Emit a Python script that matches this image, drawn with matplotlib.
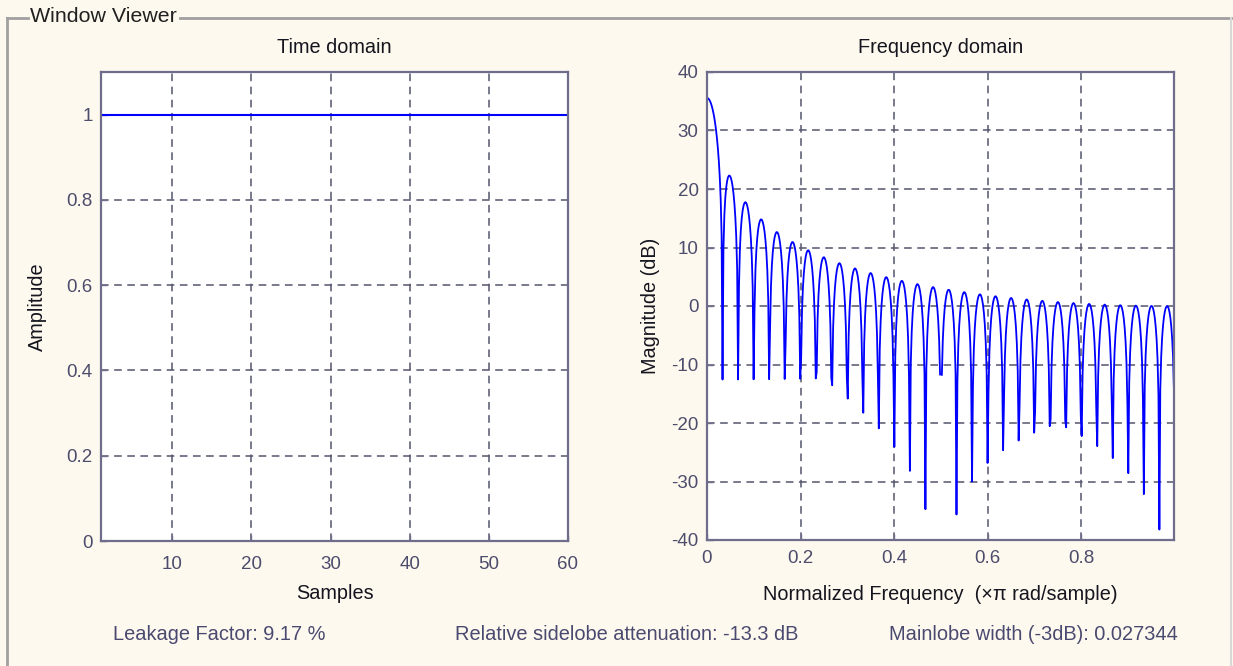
import numpy as np
import matplotlib
matplotlib.use("Agg")
import matplotlib.pyplot as plt
from matplotlib.lines import Line2D

# ---- data ----
window_len = 60
window_values = [1.0] * window_len          # rectangular window, amplitude 1
samples = list(range(1, window_len + 1))
n_freq = 512                                 # frequency points in [0, pi)

time_yticks = [0, 0.2, 0.4, 0.6, 0.8, 1]
time_xticks = [10, 20, 30, 40, 50, 60]
freq_xticks = [0, 0.2, 0.4, 0.6, 0.8]
freq_yticks = [-40, -30, -20, -10, 0, 10, 20, 30, 40]

info_leakage = "Leakage Factor: 9.17 %"
info_sidelobe = "Relative sidelobe attenuation: -13.3 dB"
info_mainlobe = "Mainlobe width (-3dB): 0.027344"

# spectrum of the window (as the viewer computes it)
H = np.fft.fft(np.asarray(window_values), 2 * n_freq)[:n_freq]
freq = np.arange(n_freq) / n_freq
absH = np.abs(H)
mag_db = np.where(absH < 1e-9, np.nan, 20 * np.log10(np.maximum(absH, 1e-300)))

# ---- style ----
BG = "#fef9ee"
SPINE = "#6e6e8c"
TICKC = "#4c4c6c"
GRIDC = "#55556e"
LABELC = "#15151f"
INFOC = "#4a4a70"
FONT = ["Liberation Sans", "DejaVu Sans"]
FS_TICK = 13.5
FS_LAB = 14.3
FS_INFO = 14.4

plt.rcParams["font.family"] = FONT
plt.rcParams["axes.unicode_minus"] = False

W, Hpx = 1233, 666
fig = plt.figure(figsize=(W / 100, Hpx / 100), dpi=100, facecolor=BG)


def fx(px):
    return px / W


def fy(py):
    return 1 - py / Hpx


def style_axes(ax, xpad):
    ax.set_facecolor("white")
    for s in ax.spines.values():
        s.set_color(SPINE)
        s.set_linewidth(1.6)
    ax.tick_params(direction="in", length=4, width=1, color=SPINE,
                   labelcolor=TICKC, labelsize=FS_TICK, pad=6)
    ax.tick_params(axis="x", pad=xpad)
    ax.grid(True, color=GRIDC, linestyle=(0, (5, 3.6)), linewidth=1.1)
    ax.set_axisbelow(True)


# Time domain axes
ax1 = fig.add_axes([fx(101), fy(541), fx(568 - 101), (541 - 72) / Hpx])
style_axes(ax1, 11)
ax1.plot(samples, window_values, color="#0000ff", linewidth=1.5)
ax1.set_xlim(1, window_len)
ax1.set_ylim(0, 1.1)
ax1.set_xticks(time_xticks)
ax1.set_yticks(time_yticks)
ax1.set_yticklabels([f"{v:g}" for v in time_yticks])
ax1.set_title("Time domain", fontsize=FS_LAB, color=LABELC, pad=14)
ax1.set_xlabel("Samples", fontsize=FS_LAB, color=LABELC, labelpad=8)
ax1.set_ylabel("Amplitude", fontsize=FS_LAB, color=LABELC, labelpad=14)

# Frequency domain axes
ax2 = fig.add_axes([fx(707), fy(540), fx(1174 - 707), (540 - 72) / Hpx])
style_axes(ax2, 7)
ax2.plot(freq, mag_db, color="#0000ff", linewidth=1.3)
ax2.set_xlim(freq[0], freq[-1])
ax2.set_ylim(-40, 40)
ax2.set_xticks(freq_xticks)
ax2.set_xticklabels([f"{v:g}" for v in freq_xticks])
ax2.set_yticks(freq_yticks)
ax2.set_title("Frequency domain", fontsize=FS_LAB, color=LABELC, pad=14)
ax2.set_xlabel("Normalized Frequency  (\u00d7\u03c0 rad/sample)", fontsize=FS_LAB,
               color=LABELC, labelpad=13)
ax2.set_ylabel("Magnitude (dB)", fontsize=FS_LAB, color=LABELC, labelpad=8)

# Group-box frame
frame_c = "#a0a0a0"
fig.add_artist(Line2D([fx(7), fx(7)], [fy(18), fy(666)], color=frame_c, lw=2))
fig.add_artist(Line2D([fx(7), fx(28)], [fy(18), fy(18)], color=frame_c, lw=2))
fig.add_artist(Line2D([fx(180), fx(1231)], [fy(18), fy(18)], color=frame_c, lw=2))
fig.add_artist(Line2D([fx(1231), fx(1231)], [fy(18), fy(666)], color="#d8d8d8", lw=1.5))
fig.text(fx(30), fy(17), "Window Viewer", fontsize=15.4, color="#202020",
         ha="left", va="center")

# Info texts
fig.text(fx(113), fy(635), info_leakage, fontsize=FS_INFO, color=INFOC, ha="left", va="center")
fig.text(fx(455), fy(635), info_sidelobe, fontsize=FS_INFO, color=INFOC, ha="left", va="center")
fig.text(fx(1178), fy(635), info_mainlobe, fontsize=FS_INFO, color=INFOC, ha="right", va="center")

fig.savefig("out.png", dpi=100, facecolor=BG)
